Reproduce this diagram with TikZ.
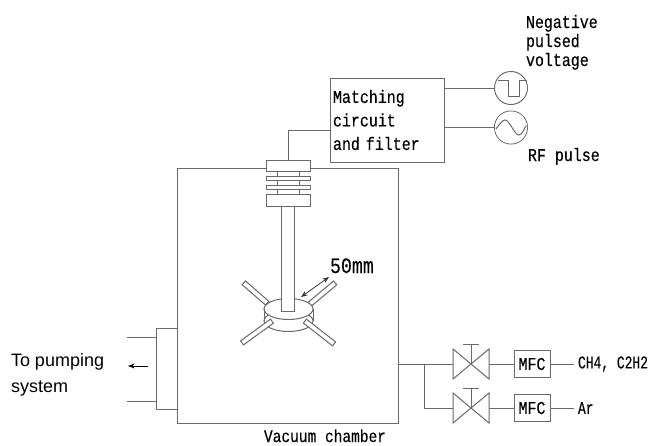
\documentclass[tikz,border=0pt]{standalone}
\usepackage{fontspec}
\usepackage{xcolor}
\usetikzlibrary{shapes.geometric, arrows.meta, positioning, backgrounds}
\setmainfont{Liberation Sans}
\newfontfamily\gothicfont[FakeStretch=0.83, FakeBold=0.25]{Liberation Mono}
\newfontfamily\narrowfont[FakeStretch=0.72, FakeBold=0.25]{Liberation Mono}
\definecolor{linegray}{RGB}{105,105,105}

\begin{document}
\begin{tikzpicture}[
    x=1pt, y=-1pt,
    node distance=5pt and 25pt,
    every node/.style={inner sep=0pt, outer sep=0pt},
    wire/.style={draw=linegray, line width=1pt},
    plate/.style={wire, fill=white, minimum width=44pt},
    armbar/.style={wire, fill=white, minimum height=5pt},
    disc/.style={wire, ellipse, fill=white, minimum width=49pt, minimum height=21pt},
    source/.style={wire, circle, minimum size=33pt},
    valve/.style={minimum width=36pt, minimum height=30pt},
    mfc/.style={wire, minimum width=36pt, minimum height=27pt, font=\gothicfont\fontsize{18}{20}\selectfont},
    label/.style={align=left, font=\gothicfont\fontsize{18}{19}\selectfont},
    gas/.style={inner sep=4pt, font=\narrowfont\fontsize{18}{20}\selectfont},
    arr/.style={-Stealth, line width=0.8pt}
]
\useasboundingbox (0,0) rectangle (651,445);

% chamber and pumping port
\node[wire, minimum width=221pt, minimum height=255pt] (chamber) at (287.5,295.5) {};
\node[wire, minimum width=21pt, minimum height=81pt] (port) at (166.5,368.5) {};
\draw[wire] (port.west |- 0,337) -- ++(-29,0);
\draw[wire] (port.west |- 0,401) -- ++(-29,0);
\coordinate (flow) at (148,366);
\draw[arr] (flow) -- ++(-20,0);
\node[anchor=base west, align=left, font=\fontsize{18}{26}\selectfont] (pump) at (11,392) {To pumping\\system};
\node[anchor=base, font=\gothicfont\fontsize{17.5}{18}\selectfont] (title) at (325,442) {Vacuum chamber};

% feedthrough
\node[plate, minimum height=11pt] (plateTop) at (288,165.5) {};
\node[plate, minimum height=4pt, below=of plateTop] (plateA) {};
\node[plate, minimum height=4pt, below=of plateA] (plateB) {};
\node[plate, minimum height=12pt, below=of plateB] (plateBot) {};
\begin{scope}[on background layer]
\draw[wire] ([xshift=-11pt]plateTop.south) -- ([xshift=-11pt]plateBot.north);
\draw[wire] ([xshift=11pt]plateTop.south) -- ([xshift=11pt]plateBot.north);
\end{scope}

% electrode
\node[armbar, minimum width=31pt, rotate=-41] (armA) at (255.5,293) {};
\node[armbar, minimum width=33pt, rotate=40] (armB) at (322.5,293.5) {};
\node[disc] (discLow) at (288.5,321) {};
\node[disc] (discTop) at (288.5,309) {};
\draw[wire] (discTop.west) -- (discLow.west);
\draw[wire] (discTop.east) -- (discLow.east);
\node[wire, fill=white, minimum width=13pt, minimum height=105pt, below=0pt of plateBot] (rod) {};
\node[armbar, minimum width=37pt, rotate=36] (armC) at (257,332) {};
\node[armbar, minimum width=37pt, rotate=-38] (armD) at (319.5,332.5) {};
\coordinate (gapA) at (301,297);
\coordinate (gapB) at (329,277);
\draw[Stealth-Stealth, line width=0.8pt, black!80] (gapA) -- (gapB);
\node[anchor=base west, font=\gothicfont\fontsize{22}{24}\selectfont] (size) at (330,273) {50mm};

% power side
\node[wire, minimum width=114pt, minimum height=84pt, text width=108pt, align=left,
      font=\gothicfont\fontsize{18}{23.5}\selectfont] (circuit) at (387,120) {Matching\\circuit\\and filter};
\node[source] (pulse) at (511,88) {};
\node[source] (rf) at (511,127.5) {};
\draw[wire] (pulse) -- (pulse -| circuit.east);
\draw[wire] (rf) -- (rf -| circuit.east);
\draw[wire] (circuit.west) ++(0,10) -| (plateTop.north);
\fill[white] (pulse.center) circle (15.5pt);
\fill[white] (rf.center) circle (16pt);
\draw[wire] (pulse.west) ++(3,-8) -- ++(11,0) -- ++(0,16) -- ++(11,0) -- ++(0,-16) -- ++(7,0);
\draw[wire] (rf.west) ++(1.5,1.5) .. controls ++(3,-4) and ++(-3,0) .. ++(9,-9)
    .. controls ++(5,0) and ++(-5,0) .. ++(14,15) .. controls ++(3,0) and ++(-2,3) .. ++(7,-9);
\node[label, anchor=base west] (negative) at (526,66) {Negative\\pulsed\\voltage};
\node[label, anchor=base west] (rflabel) at (528,161) {RF pulse};

% gas side
\node[valve] (valveA) at (471,364) {};
\node[valve, below=14pt of valveA] (valveB) {};
\node[mfc, right=of valveA] (mfcA) {MFC};
\node[mfc, right=of valveB] (mfcB) {MFC};
\node[gas, right=24pt of mfcA] (gasA) {CH4, C2H2};
\node[gas, right=24pt of mfcB] (gasB) {Ar};
\foreach \v in {valveA,valveB}{
  \draw[wire] (\v.north west) -- (\v.south east) -- (\v.north east) -- (\v.south west) -- cycle;
  \draw[wire] (\v.center) -- ++(0,-20) ++(-8,0) -- ++(16,0);
}
\coordinate (tee) at (424,364);
\draw[wire] (chamber.east |- valveA) -- (valveA.west);
\draw[wire] (tee) |- (valveB.west);
\draw[wire] (valveA.east) -- (mfcA);
\draw[wire] (valveB.east) -- (mfcB);
\draw[wire] (mfcA) -- (gasA);
\draw[wire] (mfcB) -- (gasB);

\end{tikzpicture}
\end{document}
